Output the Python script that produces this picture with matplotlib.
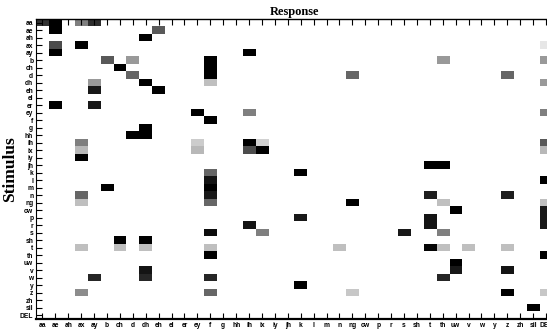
import numpy as np
import matplotlib
matplotlib.use("Agg")
import matplotlib.pyplot as plt

phones = ["aa", "ae", "ah", "ax", "ay", "b", "ch", "d", "dh", "eh", "el", "er", "ey", "f", "g", "hh",
          "ih", "ix", "iy", "jh", "k", "l", "m", "n", "ng", "ow", "p", "r", "s", "sh", "t", "th", "uw",
          "v", "w", "y", "z", "zh", "sil", "DEL"]

# confusion cells: stimulus -> response, darkness (1 = black)
stim = ["aa", "aa", "aa", "aa", "ae", "ae", "ah", "ax", "ax", "ax", "ay", "ay",
        "b", "b", "b", "b", "b", "ch", "ch", "d", "d", "d", "d", "dh", "dh", "dh", "dh",
        "eh", "eh", "er", "er", "ey", "ey", "ey", "f", "g", "hh", "hh",
        "ih", "ih", "ih", "ih", "ih", "ix", "ix", "ix", "ix", "ix", "iy", "jh", "jh",
        "k", "k", "l", "l", "m", "m", "n", "n", "n", "n", "ng", "ng", "ng", "ng", "ng",
        "ow", "ow", "p", "p", "p", "r", "r", "r", "s", "s", "s", "s", "sh", "sh",
        "t", "t", "t", "t", "t", "t", "t", "t", "t", "th", "th", "uw", "v", "v", "v",
        "w", "w", "w", "w", "y", "z", "z", "z", "z", "z", "sil"]
resp = ["aa", "ae", "ax", "ay", "ae", "eh", "dh", "ae", "ax", "DEL", "ae", "ih",
        "b", "d", "f", "th", "DEL", "ch", "f", "d", "f", "ng", "z", "ay", "dh", "f", "DEL",
        "ay", "eh", "ae", "ay", "ey", "ih", "DEL", "f", "dh", "d", "dh",
        "ax", "ey", "ih", "ix", "DEL", "ax", "ey", "ih", "ix", "DEL", "ax", "t", "th",
        "f", "k", "f", "DEL", "b", "f", "ax", "f", "t", "z", "ax", "f", "ng", "th", "DEL",
        "uw", "DEL", "k", "t", "DEL", "ih", "t", "DEL", "f", "ix", "s", "th", "ch", "dh",
        "ax", "ch", "dh", "f", "n", "t", "th", "v", "z", "f", "DEL", "uw", "dh", "uw", "z",
        "ay", "dh", "f", "th", "k", "ax", "f", "ng", "z", "DEL", "sil"]
dark = [0.8, 1.0, 0.5, 0.82, 1.0, 0.65, 1.0, 0.7, 1.0, 0.1, 1.0, 1.0,
        0.65, 0.4, 1.0, 0.4, 0.4, 1.0, 1.0, 0.6, 1.0, 0.6, 0.6, 0.4, 1.0, 0.25, 0.4,
        0.9, 1.0, 1.0, 0.9, 1.0, 0.5, 0.5, 1.0, 1.0, 1.0, 1.0,
        0.5, 0.2, 1.0, 0.18, 0.65, 0.28, 0.28, 0.7, 1.0, 0.28, 1.0, 1.0, 1.0,
        0.6, 1.0, 0.92, 1.0, 1.0, 1.0, 0.6, 0.9, 0.88, 0.88, 0.25, 0.6, 1.0, 0.25, 0.25,
        1.0, 0.9, 0.9, 0.92, 0.9, 0.92, 0.92, 0.9, 0.95, 0.5, 0.9, 0.5, 1.0, 1.0,
        0.25, 0.25, 0.25, 0.25, 0.25, 0.98, 0.25, 0.25, 0.25, 1.0, 1.0, 1.0, 0.92, 0.9, 0.92,
        0.85, 0.85, 0.85, 0.85, 1.0, 0.45, 0.6, 0.22, 1.0, 0.22, 1.0]

idx = {p: i for i, p in enumerate(phones)}
mat = np.zeros((len(phones), len(phones)))
for s, r, v in zip(stim, resp, dark):
    mat[idx[s], idx[r]] = v

W, H = 547, 334
fig = plt.figure(figsize=(W / 100, H / 100), dpi=100)
ax = fig.add_axes([36 / W, 15 / H, 516.5 / W, 300 / H])
ax.imshow(mat, cmap="gray_r", vmin=0, vmax=1, aspect="auto", interpolation="nearest")

n = len(phones)
ax.set_xticks(range(n)); ax.set_yticks(range(n))
ax.set_xticklabels(phones, fontsize=4.8, family="Liberation Sans", fontweight="bold")
ax.set_yticklabels(phones, fontsize=4.8, family="Liberation Sans", fontweight="bold")
ax.tick_params(axis="x", direction="in", length=4.6, width=0.8, top=True, pad=2.5)
ax.tick_params(axis="y", direction="in", length=4.2, width=0.8, right=True, pad=2)
ax.set_xlim(-0.5, n - 0.5); ax.set_ylim(n - 0.5, -0.5)

ax.spines["bottom"].set_linewidth(1.6)
ax.spines["top"].set_linewidth(1.0)
ax.spines["left"].set_linewidth(0.8)

ax.set_title("Response", fontsize=9, family="Liberation Serif", fontweight="bold", pad=3)
ax.set_ylabel("Stimulus", fontsize=12.5, family="Liberation Serif", fontweight="bold", labelpad=1)

fig.savefig("out.png", dpi=100)
